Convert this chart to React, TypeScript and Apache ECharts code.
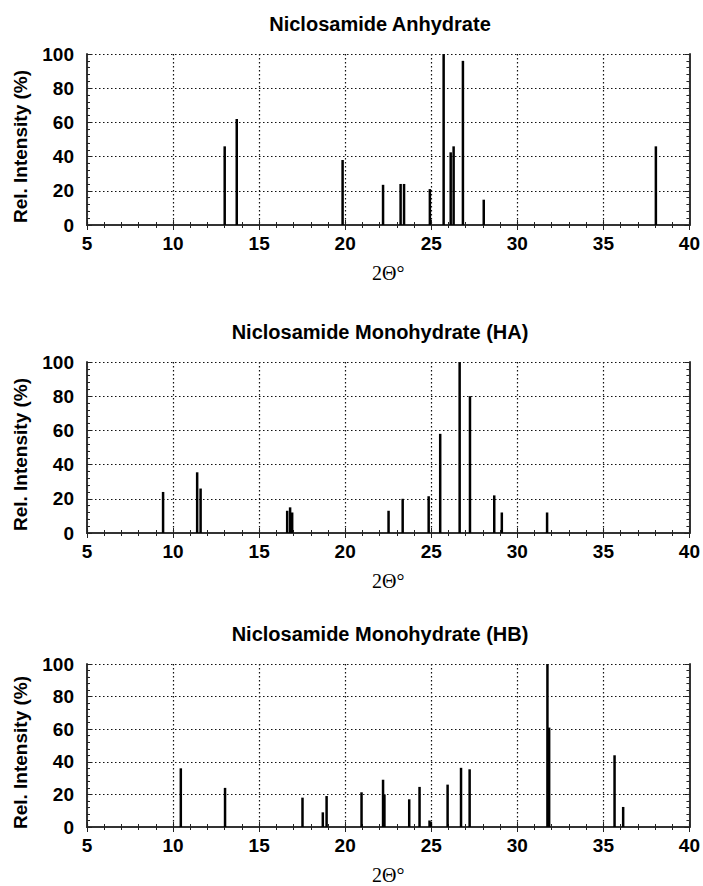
import React, { useEffect, useRef } from "react";
import * as echarts from "echarts";

const titles = [
  "Niclosamide Anhydrate",
  "Niclosamide Monohydrate (HA)",
  "Niclosamide Monohydrate (HB)",
];

const anhydrateX = [13.0, 13.7, 19.85, 22.2, 23.22, 23.42, 24.92, 25.72, 26.13, 26.3, 26.84, 28.05, 38.05];
const anhydrateY = [46, 62, 38, 23.5, 24, 24, 21, 100, 42.5, 46, 96, 14.8, 46];

const haX = [9.42, 11.4, 11.6, 16.63, 16.8, 16.92, 22.52, 23.34, 24.85, 25.52, 26.65, 27.25, 28.66, 29.1, 31.73];
const haY = [24, 35.5, 26, 13, 15, 12, 13, 20, 21.5, 58, 100, 80, 22, 12, 12];

const hbX = [10.45, 13.02, 17.52, 18.7, 18.92, 20.95, 22.2, 22.28, 23.72, 24.32, 24.9, 24.98, 25.95, 26.73, 27.23, 31.75, 31.85, 35.65, 36.15];
const hbY = [36, 24, 18, 9, 19, 21.3, 29, 20, 17, 24.6, 4, 3, 26, 36.3, 35.4, 100, 61, 44, 12.3];

const xMin = 5;
const xMax = 40;
const xStep = 5;
const yMin = 0;
const yMax = 100;
const yStep = 20;
const xName = "2Θ°";
const yName = "Rel. Intensity (%)";

const seriesX = [anhydrateX, haX, hbX];
const seriesY = [anhydrateY, haY, hbY];

export default function App() {
  const ref = useRef<HTMLDivElement>(null);
  useEffect(() => {
    if (!ref.current) return;
    const chart = echarts.init(ref.current, null, { renderer: "svg" });
    const gridTops = [54, 362, 664];
    const gridH = 171;
    const left = 87;
    const width = 603;
    const sans = "Liberation Sans";
    const grids: any[] = [];
    const xAxes: any[] = [];
    const yAxes: any[] = [];
    const series: any[] = [];
    const titleArr: any[] = [];
    const tickBase = {
      inside: true,
      length: 5,
      lineStyle: { color: "#222", width: 1 },
    };
    const minorBase = {
      show: true,
      splitNumber: 5,
      length: 3,
      lineStyle: { color: "#222", width: 1 },
    };
    const frame = { show: true, lineStyle: { color: "#333", width: 2 } };
    const gridDots = {
      show: true,
      lineStyle: { type: [1.5, 2.5], color: "#111", width: 1.2 },
    };
    gridTops.forEach((top, i) => {
      grids.push({
        left,
        top,
        width,
        height: gridH,
        show: false,
      });
      titleArr.push({
        text: titles[i],
        left: 375,
        top: top - 45,
        textAlign: "center",
        textStyle: {
          fontFamily: sans,
          fontWeight: "bold",
          fontSize: 20,
          color: "#000",
        },
      });
      xAxes.push({
        type: "value",
        gridIndex: i,
        min: xMin,
        max: xMax,
        interval: xStep,
        position: "bottom",
        name: xName,
        nameLocation: "middle",
        nameGap: 38,
        nameTextStyle: {
          fontFamily: "Liberation Serif",
          fontSize: 20,
          color: "#000",
        },
        axisLine: frame,
        axisTick: tickBase,
        minorTick: minorBase,
        axisLabel: {
          fontFamily: sans,
          fontWeight: "bold",
          fontSize: 19,
          color: "#000",
          margin: 9,
        },
        splitLine: gridDots,
      });
      xAxes.push({
        type: "value",
        gridIndex: i,
        min: xMin,
        max: xMax,
        interval: xStep,
        position: "top",
        axisLine: frame,
        axisTick: tickBase,
        minorTick: minorBase,
        axisLabel: { show: false },
        splitLine: { show: false },
      });
      yAxes.push({
        type: "value",
        gridIndex: i,
        min: yMin,
        max: yMax,
        interval: yStep,
        position: "left",
        name: yName,
        nameLocation: "middle",
        nameGap: 57,
        nameTextStyle: {
          fontFamily: sans,
          fontWeight: "bold",
          fontSize: 19,
          color: "#000",
          padding: [0, 14, 0, 0],
        },
        axisLine: frame,
        axisTick: tickBase,
        minorTick: minorBase,
        axisLabel: {
          fontFamily: sans,
          fontWeight: "bold",
          fontSize: 19,
          color: "#000",
          margin: 13,
        },
        splitLine: gridDots,
      });
      yAxes.push({
        type: "value",
        gridIndex: i,
        min: yMin,
        max: yMax,
        interval: yStep,
        position: "right",
        axisLine: frame,
        axisTick: tickBase,
        minorTick: minorBase,
        axisLabel: { show: false },
        splitLine: { show: false },
      });
      series.push({
        type: "bar",
        xAxisIndex: i * 2,
        yAxisIndex: i * 2,
        barWidth: 2.5,
        itemStyle: { color: "#000" },
        data: seriesX[i].map((x, j) => [x, seriesY[i][j]]),
        silent: true,
      });
    });
    chart.setOption({
      animation: false,
      backgroundColor: "#fff",
      title: titleArr,
      grid: grids,
      xAxis: xAxes,
      yAxis: yAxes,
      series,
    });
    return () => chart.dispose();
  }, []);
  return (
    <div
      ref={ref}
      style={{ position: "absolute", left: 0, top: 0, width: 703, height: 886 }}
    />
  );
}
